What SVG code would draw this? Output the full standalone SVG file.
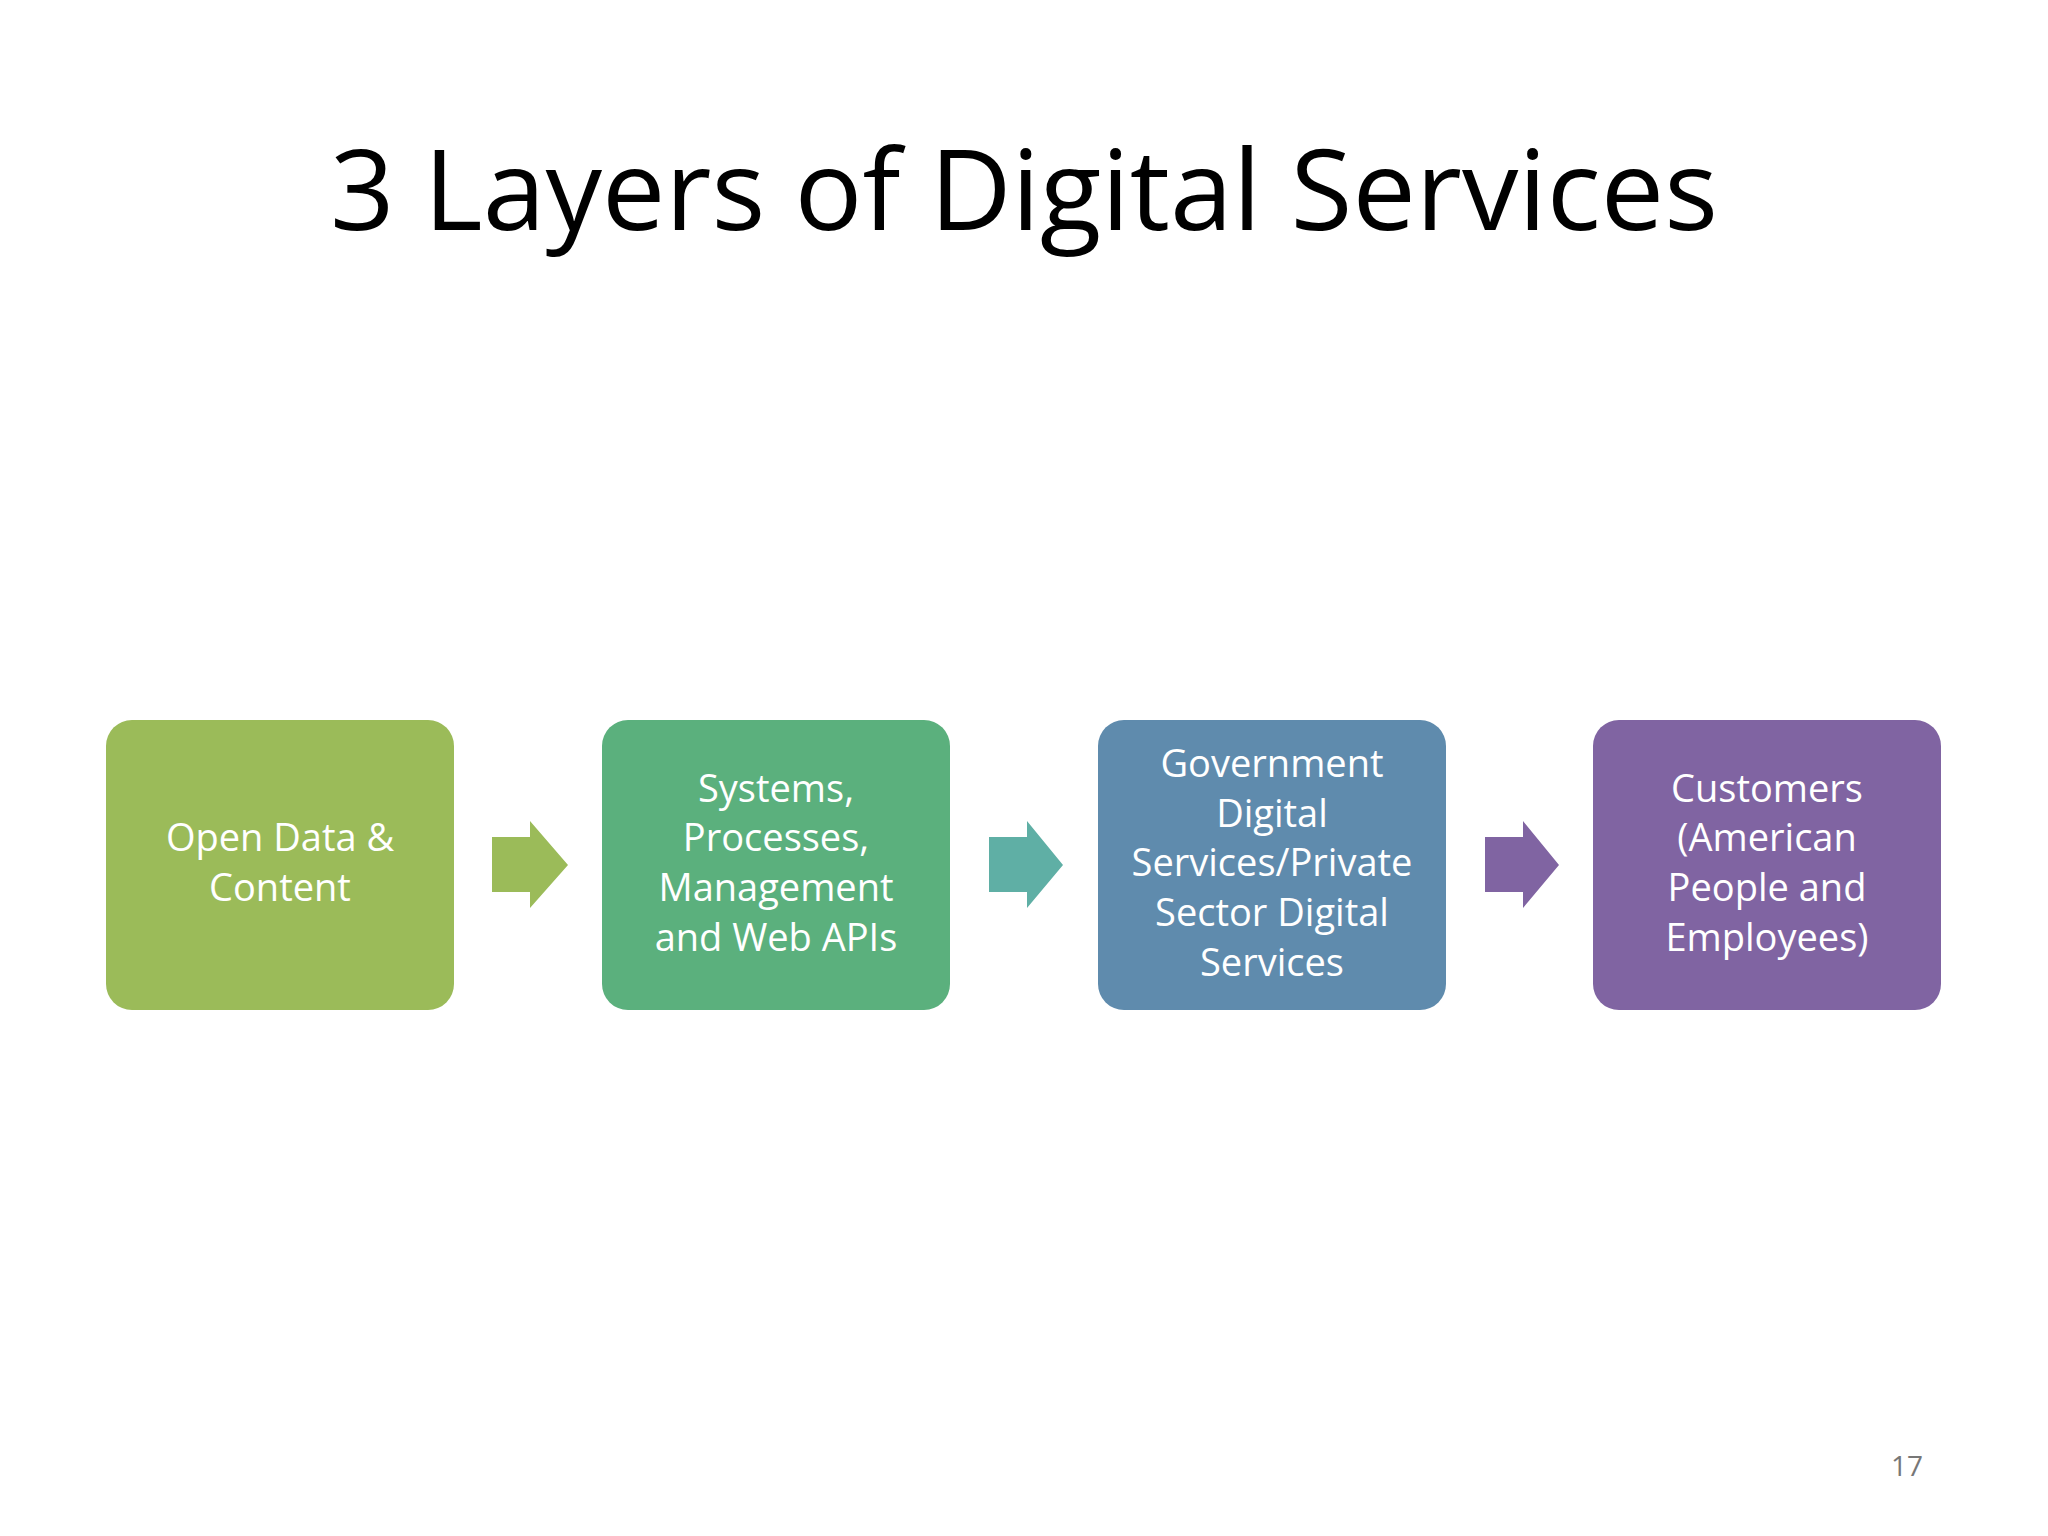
<svg xmlns="http://www.w3.org/2000/svg" width="2048" height="1536" viewBox="0 0 2048 1536">
<style>
.t{font-family:"Open Sans","Liberation Sans",sans-serif;font-size:38px;fill:#fff;text-anchor:middle}
</style>
<rect width="2048" height="1536" fill="#fff"/>
<text x="1024" y="230" font-family="Open Sans, Liberation Sans, sans-serif" font-size="112" text-anchor="middle" fill="#000" textLength="1388" lengthAdjust="spacingAndGlyphs">3 Layers of Digital Services</text>
<g id="n1"><rect x="106" y="720" width="348" height="290" rx="26" fill="#9BBB59"/>
<text class="t" x="280" y="851">Open Data &amp;</text><text class="t" x="280" y="901">Content</text></g>
<g id="n2"><rect x="602" y="720" width="348" height="290" rx="26" fill="#5BB07D"/>
<text class="t" x="776" y="802">Systems,</text><text class="t" x="776" y="851">Processes,</text><text class="t" x="776" y="901">Management</text><text class="t" x="776" y="951">and Web APIs</text></g>
<g id="n3"><rect x="1098" y="720" width="348" height="290" rx="26" fill="#5F8BAD"/>
<text class="t" x="1272" y="777">Government</text><text class="t" x="1272" y="827">Digital</text><text class="t" x="1272" y="876">Services/Private</text><text class="t" x="1272" y="926">Sector Digital</text><text class="t" x="1272" y="976">Services</text></g>
<g id="n4"><rect x="1593" y="720" width="348" height="290" rx="26" fill="#8064A2"/>
<text class="t" x="1767" y="802">Customers</text><text class="t" x="1767" y="851">(American</text><text class="t" x="1767" y="901">People and</text><text class="t" x="1767" y="951">Employees)</text></g>
<g id="connectors">
<polygon points="492,837 530,837 530,821 568,865 530,908 530,892 492,892" fill="#9BBB59"/>
<polygon points="989,837 1027,837 1027,821 1063,865 1027,908 1027,892 989,892" fill="#5FAFA5"/>
<polygon points="1485,837 1523,837 1523,821 1559,865 1523,908 1523,892 1485,892" fill="#8064A2"/>
</g>
<text x="1907" y="1476" font-family="Open Sans, Liberation Sans, sans-serif" font-size="28" fill="#777" text-anchor="middle">17</text>
</svg>
